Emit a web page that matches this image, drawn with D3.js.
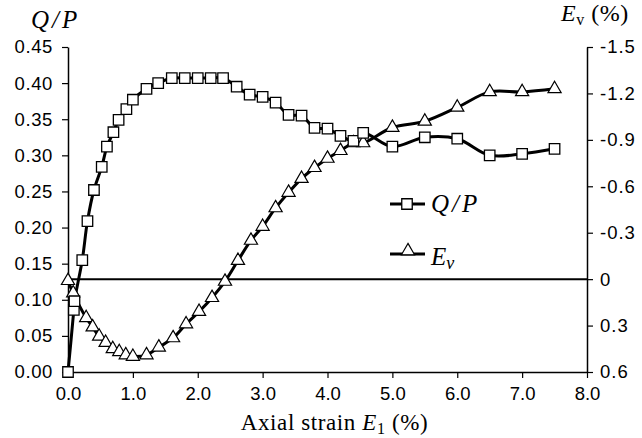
<!DOCTYPE html>
<html><head><meta charset="utf-8">
<script src="https://cdn.jsdelivr.net/npm/d3@7"></script>
<style>body{margin:0;background:#fff}svg{display:block}</style>
</head><body>
<svg id="c" width="642" height="438"></svg>
<script>
// Data
const qpX = [0, 0.09, 0.1, 0.22, 0.3, 0.4, 0.52, 0.6, 0.7, 0.78, 0.9, 1.0, 1.21, 1.39, 1.6, 1.8, 2.0, 2.2, 2.39, 2.6, 2.8, 3.0, 3.2, 3.4, 3.6, 3.8, 4.0, 4.2, 4.4, 4.55, 5.0, 5.5, 6.0, 6.5, 7.0, 7.5];
const qpY = [0, 0.086, 0.098, 0.155, 0.209, 0.252, 0.284, 0.312, 0.332, 0.349, 0.364, 0.377, 0.392, 0.400, 0.407, 0.407, 0.407, 0.407, 0.407, 0.395, 0.384, 0.381, 0.373, 0.356, 0.355, 0.338, 0.337, 0.327, 0.320, 0.331, 0.312, 0.325, 0.323, 0.300, 0.302, 0.309];
const evX = [0, 0.08, 0.28, 0.38, 0.48, 0.58, 0.69, 0.79, 0.89, 1.0, 1.21, 1.4, 1.62, 1.82, 2.02, 2.22, 2.42, 2.62, 2.82, 3.0, 3.2, 3.4, 3.6, 3.8, 4.0, 4.2, 4.4, 4.55, 5.0, 5.5, 6.0, 6.5, 7.0, 7.5];
const evY = [0.01, 0.09, 0.25, 0.31, 0.37, 0.41, 0.45, 0.47, 0.49, 0.50, 0.49, 0.44, 0.38, 0.29, 0.21, 0.12, 0.015, -0.12, -0.25, -0.34, -0.46, -0.56, -0.65, -0.72, -0.78, -0.83, -0.88, -0.88, -0.98, -1.02, -1.11, -1.21, -1.21, -1.23];
const xTicks = [0, 1, 2, 3, 4, 5, 6, 7, 8];
const yLeftTicks = [0, 0.05, 0.10, 0.15, 0.20, 0.25, 0.30, 0.35, 0.40, 0.45];
const yRightTicks = [-1.5, -1.2, -0.9, -0.6, -0.3, 0, 0.3, 0.6];

const svg = d3.select("#c");
const L = 68, R = 587, T = 47, B = 372;
const x = d3.scaleLinear().domain([0, 8]).range([L, R]);
const yl = d3.scaleLinear().domain([0, 0.45]).range([B, T]);
const yr = d3.scaleLinear().domain([-1.5, 0.6]).range([T, B]);

const sans = "'Liberation Sans', Arial, sans-serif";
const serif = "'Liberation Serif', 'Times New Roman', serif";

function styleAxis(g, ls) {
  g.selectAll(".domain").attr("stroke", "#000").attr("stroke-width", 1.5);
  g.selectAll(".tick line").attr("stroke", "#000").attr("stroke-width", 1.2);
  g.selectAll(".tick text").attr("fill", "#000").style("font-family", sans).style("font-size", "18.5px").style("letter-spacing", ls || "0px");
}

// axes
const gx = svg.append("g").attr("transform", `translate(0,${B})`)
  .call(d3.axisBottom(x).tickValues(xTicks).tickFormat(d3.format(".1f")).tickSize(6).tickSizeOuter(0).tickPadding(9));
styleAxis(gx);
const gl = svg.append("g").attr("transform", `translate(${L},0)`)
  .call(d3.axisLeft(yl).tickValues(yLeftTicks).tickFormat(d3.format(".2f")).tickSize(6).tickSizeOuter(0).tickPadding(9));
styleAxis(gl, "0.6px");
const gr = svg.append("g").attr("transform", `translate(${R},0)`)
  .call(d3.axisRight(yr).tickValues(yRightTicks).tickFormat(d => d === 0 ? "0" : d3.format(".1f")(d).replace("\u2212", "-")).tickSize(6).tickSizeOuter(0).tickPadding(7));
styleAxis(gr, "1px");

// zero line of Ev
svg.append("line").attr("x1", L).attr("x2", R).attr("y1", yr(0)).attr("y2", yr(0))
  .attr("stroke", "#000").attr("stroke-width", 2);

const qp = qpX.map((d, i) => [d, qpY[i]]);
const ev = evX.map((d, i) => [d, evY[i]]);

svg.append("path").datum(qp)
  .attr("d", d3.line().x(d => x(d[0])).y(d => yl(d[1])).curve(d3.curveCatmullRom.alpha(0.5)))
  .attr("fill", "none").attr("stroke", "#000").attr("stroke-width", 3);
svg.append("path").datum(ev)
  .attr("d", d3.line().x(d => x(d[0])).y(d => yr(d[1])).curve(d3.curveCatmullRom.alpha(0.5)))
  .attr("fill", "none").attr("stroke", "#000").attr("stroke-width", 3);

const sq = d3.symbol().type(d3.symbolSquare).size(110);
const tri = d3.symbol().type(d3.symbolTriangle).size(75);

svg.append("g").selectAll("path").data(ev).join("path")
  .attr("d", tri).attr("transform", d => `translate(${x(d[0])},${yr(d[1])})`)
  .attr("fill", "#fff").attr("stroke", "#000").attr("stroke-width", 1.2);
svg.append("g").selectAll("path").data(qp).join("path")
  .attr("d", sq).attr("transform", d => `translate(${x(d[0])},${yl(d[1])})`)
  .attr("fill", "#fff").attr("stroke", "#000").attr("stroke-width", 1.3);

// legend
const lg = svg.append("g");
lg.append("line").attr("x1", 390).attr("x2", 425).attr("y1", 204).attr("y2", 204).attr("stroke", "#000").attr("stroke-width", 3);
lg.append("path").attr("d", sq).attr("transform", "translate(407,204)").attr("fill", "#fff").attr("stroke", "#000").attr("stroke-width", 1.3);
lg.append("text").attr("x", 431).attr("y", 212).style("font-family", serif).style("font-style", "italic").style("font-size", "25px").style("letter-spacing", "3px").text("Q/P");
lg.append("line").attr("x1", 390).attr("x2", 425).attr("y1", 254).attr("y2", 254).attr("stroke", "#000").attr("stroke-width", 3);
lg.append("path").attr("d", tri).attr("transform", "translate(408,251)").attr("fill", "#fff").attr("stroke", "#000").attr("stroke-width", 1.2);
const et = lg.append("text").attr("x", 431).attr("y", 265).style("font-family", serif).style("font-size", "25px").style("font-style", "italic");
et.append("tspan").text("E");
et.append("tspan").attr("dy", 4).style("font-size", "18px").text("v");

// titles
svg.append("text").attr("x", 31).attr("y", 28).style("font-family", serif).style("font-style", "italic").style("font-size", "25px").style("letter-spacing", "3px").text("Q/P");
const rt = svg.append("text").attr("x", 561).attr("y", 21).style("font-family", serif).style("font-size", "24px").style("letter-spacing", "0.5px");
rt.append("tspan").style("font-style", "italic").text("E");
rt.append("tspan").attr("dy", 4).style("font-size", "16px").text("v");
rt.append("tspan").attr("dy", -4).text(" (%)");

const xt = svg.append("text").attr("x", (L + R) / 2 + 7).attr("y", 430).attr("text-anchor", "middle").style("font-family", serif).style("font-size", "23px").style("letter-spacing", "0.6px");
xt.append("tspan").text("Axial strain ");
xt.append("tspan").style("font-style", "italic").text("E");
xt.append("tspan").attr("dy", 4).style("font-size", "16px").text("1");
xt.append("tspan").attr("dy", -4).text(" (%)");
</script>
</body></html>
